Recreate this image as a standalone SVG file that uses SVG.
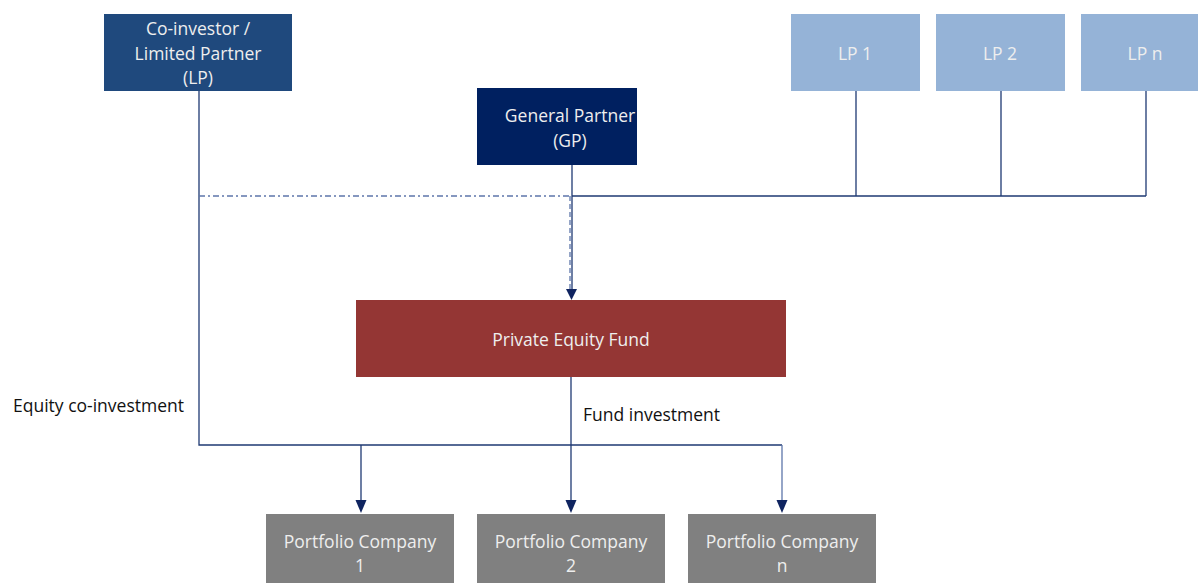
<svg xmlns="http://www.w3.org/2000/svg" width="1198" height="583" viewBox="0 0 1198 583">
<style>
.t{font-family:"Open Sans","Liberation Sans",sans-serif;font-size:17.5px;fill:#eeeeee;text-anchor:middle}
.lbl{font-family:"Open Sans","Liberation Sans",sans-serif;font-size:17.5px;fill:#111111}
.c{fill:none;stroke:#1f3a73;stroke-width:1.3}
.c2{fill:none;stroke:#5d76aa;stroke-width:1.3}
.dd{fill:none;stroke:#5d76aa;stroke-width:1.3;stroke-dasharray:6 3 2 3}
</style>
<rect width="1198" height="583" fill="#ffffff"/>
<g id="connectors">
<path class="c" d="M199,91 V445 H782"/>
<path class="c2" d="M782,445 V504"/>
<path class="c" d="M361,445 V504"/>
<path class="dd" d="M199,196 H571"/>
<path class="c" d="M572,165 V290"/>
<path class="c2" d="M570,196 V290" stroke-dasharray="5 3"/>
<path class="c" d="M572,196 H1146 M856,91 V196 M1001,91 V196 M1146,91 V196"/>
<path class="c" d="M571,377 V504"/>
<polygon points="566,289 577,289 571.5,300" fill="#0f2460"/>
<polygon points="355.5,500 366.5,500 361,513" fill="#0f2460"/>
<polygon points="565.5,500 576.5,500 571,513" fill="#0f2460"/>
<polygon points="776.5,500 787.5,500 782,513" fill="#0f2460"/>
<text class="lbl" x="13" y="412">Equity co-investment</text>
<text class="lbl" x="583" y="421">Fund investment</text>
</g>
<g id="coinvestor">
<rect x="104" y="14" width="188" height="77" fill="#1f497d"/>
<text class="t" x="198" y="35">Co-investor /</text>
<text class="t" x="198" y="60">Limited Partner</text>
<text class="t" x="198" y="84">(LP)</text>
</g>
<g id="gp">
<rect x="477" y="88" width="160" height="77" fill="#002060"/>
<text class="t" x="570" y="122">General Partner</text>
<text class="t" x="570" y="147">(GP)</text>
</g>
<g id="lp1">
<rect x="791" y="14" width="129" height="77" fill="#95b3d7"/>
<text class="t" x="855" y="60">LP 1</text>
</g>
<g id="lp2">
<rect x="936" y="14" width="129" height="77" fill="#95b3d7"/>
<text class="t" x="1000" y="60">LP 2</text>
</g>
<g id="lpn">
<rect x="1081" y="14" width="129" height="77" fill="#95b3d7"/>
<text class="t" x="1145" y="60">LP n</text>
</g>
<g id="fund">
<rect x="356" y="300" width="430" height="77" fill="#943634"/>
<text class="t" x="571" y="346">Private Equity Fund</text>
</g>
<g id="pc1">
<rect x="266" y="514" width="188" height="69" fill="#808080"/>
<text class="t" x="360" y="548">Portfolio Company</text>
<text class="t" x="360" y="572">1</text>
</g>
<g id="pc2">
<rect x="477" y="514" width="188" height="69" fill="#808080"/>
<text class="t" x="571" y="548">Portfolio Company</text>
<text class="t" x="571" y="572">2</text>
</g>
<g id="pcn">
<rect x="688" y="514" width="188" height="69" fill="#808080"/>
<text class="t" x="782" y="548">Portfolio Company</text>
<text class="t" x="782" y="572">n</text>
</g>
</svg>
